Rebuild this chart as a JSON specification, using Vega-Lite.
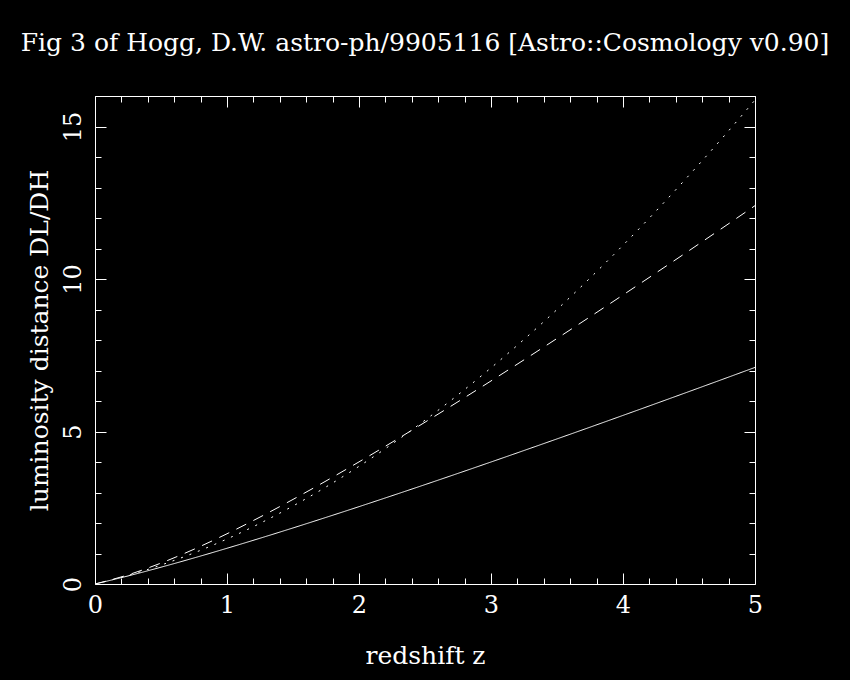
{
  "$schema": "https://vega.github.io/schema/vega-lite/v6.json",
  "width": 660,
  "height": 488,
  "autosize": "none",
  "padding": {"left": 95, "top": 96, "right": 95, "bottom": 96},
  "background": "black",
  "title": {"text": "Fig 3 of Hogg, D.W. astro-ph/9905116 [Astro::Cosmology v0.90]", "color": "white", "font": "DejaVu Serif", "fontSize": 25, "fontWeight": "normal", "anchor": "middle", "offset": 40},
  "config": {
    "view": {"stroke": "white", "strokeWidth": 1},
    "axis": {"grid": false, "domain": false, "tickColor": "white", "tickWidth": 1, "labelColor": "white", "titleColor": "white", "labelFont": "DejaVu Serif", "titleFont": "DejaVu Serif", "labelFontSize": 24, "titleFontSize": 25, "titleFontWeight": "normal", "labelFlush": false}
  },
  "data": {"values": [
    {"z": 0, "d": 0, "model": "EdS"}, {"z": 0.25, "d": 0.2639, "model": "EdS"}, {"z": 0.5, "d": 0.5505, "model": "EdS"}, {"z": 0.75, "d": 0.8542, "model": "EdS"}, {"z": 1, "d": 1.1716, "model": "EdS"}, {"z": 1.25, "d": 1.5, "model": "EdS"}, {"z": 1.5, "d": 1.8377, "model": "EdS"}, {"z": 1.75, "d": 2.1835, "model": "EdS"}, {"z": 2, "d": 2.5359, "model": "EdS"}, {"z": 2.25, "d": 2.8945, "model": "EdS"}, {"z": 2.5, "d": 3.2583, "model": "EdS"}, {"z": 2.75, "d": 3.627, "model": "EdS"}, {"z": 3, "d": 4.0, "model": "EdS"}, {"z": 3.25, "d": 4.3769, "model": "EdS"}, {"z": 3.5, "d": 4.7574, "model": "EdS"}, {"z": 3.75, "d": 5.1411, "model": "EdS"}, {"z": 4, "d": 5.5279, "model": "EdS"}, {"z": 4.25, "d": 5.9174, "model": "EdS"}, {"z": 4.5, "d": 6.3096, "model": "EdS"}, {"z": 4.75, "d": 6.7042, "model": "EdS"}, {"z": 5, "d": 7.101, "model": "EdS"},
    {"z": 0, "d": 0, "model": "Open"}, {"z": 0.25, "d": 0.2803, "model": "Open"}, {"z": 0.5, "d": 0.6204, "model": "Open"}, {"z": 0.75, "d": 1.0192, "model": "Open"}, {"z": 1, "d": 1.4757, "model": "Open"}, {"z": 1.25, "d": 1.9888, "model": "Open"}, {"z": 1.5, "d": 2.5576, "model": "Open"}, {"z": 1.75, "d": 3.1811, "model": "Open"}, {"z": 2, "d": 3.8582, "model": "Open"}, {"z": 2.25, "d": 4.5882, "model": "Open"}, {"z": 2.5, "d": 5.3701, "model": "Open"}, {"z": 2.75, "d": 6.203, "model": "Open"}, {"z": 3, "d": 7.0864, "model": "Open"}, {"z": 3.25, "d": 8.0191, "model": "Open"}, {"z": 3.5, "d": 9.0003, "model": "Open"}, {"z": 3.75, "d": 10.0296, "model": "Open"}, {"z": 4, "d": 11.1058, "model": "Open"}, {"z": 4.25, "d": 12.2286, "model": "Open"}, {"z": 4.5, "d": 13.3999, "model": "Open"}, {"z": 4.75, "d": 14.6106, "model": "Open"}, {"z": 5, "d": 15.868, "model": "Open"},
    {"z": 0, "d": 0, "model": "Lambda"}, {"z": 0.25, "d": 0.2997, "model": "Lambda"}, {"z": 0.5, "d": 0.6861, "model": "Lambda"}, {"z": 0.75, "d": 1.1402, "model": "Lambda"}, {"z": 1, "d": 1.6469, "model": "Lambda"}, {"z": 1.25, "d": 2.1942, "model": "Lambda"}, {"z": 1.5, "d": 2.7733, "model": "Lambda"}, {"z": 1.75, "d": 3.378, "model": "Lambda"}, {"z": 2, "d": 4.0036, "model": "Lambda"}, {"z": 2.25, "d": 4.6467, "model": "Lambda"}, {"z": 2.5, "d": 5.3046, "model": "Lambda"}, {"z": 2.75, "d": 5.9755, "model": "Lambda"}, {"z": 3, "d": 6.6575, "model": "Lambda"}, {"z": 3.25, "d": 7.3496, "model": "Lambda"}, {"z": 3.5, "d": 8.0506, "model": "Lambda"}, {"z": 3.75, "d": 8.7597, "model": "Lambda"}, {"z": 4, "d": 9.4762, "model": "Lambda"}, {"z": 4.25, "d": 10.1993, "model": "Lambda"}, {"z": 4.5, "d": 10.9287, "model": "Lambda"}, {"z": 4.75, "d": 11.6638, "model": "Lambda"}, {"z": 5, "d": 12.4043, "model": "Lambda"}
  ]},
  "resolve": {"axis": {"x": "independent", "y": "independent"}},
  "layer": [
    {
      "mark": {"type": "line", "color": "white", "strokeWidth": 1, "interpolate": "monotone", "clip": true},
      "encoding": {
        "x": {"field": "z", "type": "quantitative", "scale": {"domain": [0, 5], "nice": false, "zero": false},
          "axis": {"orient": "bottom", "values": [0, 1, 2, 3, 4, 5], "ticks": false, "labelPadding": 9, "title": "redshift z", "titlePadding": 26}},
        "y": {"field": "d", "type": "quantitative", "scale": {"domain": [0, 16], "nice": false, "zero": false},
          "axis": {"orient": "left", "values": [0, 5, 10, 15], "ticks": false, "labelAngle": -90, "labelPadding": 10, "title": "luminosity distance DL/DH", "titlePadding": 9}},
        "strokeDash": {"field": "model", "type": "nominal", "scale": {"domain": ["EdS", "Open", "Lambda"], "range": [[1, 0], [2, 7], [11, 8]]}, "legend": null},
        "detail": {"field": "model"}
      }
    },
    {
      "mark": {"type": "point", "opacity": 0},
      "encoding": {
        "x": {"field": "z", "type": "quantitative", "axis": {"orient": "bottom", "values": [0, 1, 2, 3, 4, 5], "labels": false, "tickSize": 11, "offset": -11, "title": null}},
        "y": {"field": "d", "type": "quantitative", "axis": {"orient": "left", "values": [0, 5, 10, 15], "labels": false, "tickSize": 11, "offset": -11, "title": null}}
      }
    },
    {
      "mark": {"type": "point", "opacity": 0},
      "encoding": {
        "x": {"field": "z", "type": "quantitative", "axis": {"orient": "bottom", "values": [0.2, 0.4, 0.6, 0.8, 1.2, 1.4, 1.6, 1.8, 2.2, 2.4, 2.6, 2.8, 3.2, 3.4, 3.6, 3.8, 4.2, 4.4, 4.6, 4.8], "labels": false, "tickSize": 6, "offset": -6, "title": null}},
        "y": {"field": "d", "type": "quantitative", "axis": {"orient": "left", "values": [1, 2, 3, 4, 6, 7, 8, 9, 11, 12, 13, 14, 16], "labels": false, "tickSize": 6, "offset": -6, "title": null}}
      }
    },
    {
      "mark": {"type": "point", "opacity": 0},
      "encoding": {
        "x": {"field": "z", "type": "quantitative", "axis": {"orient": "top", "values": [0, 1, 2, 3, 4, 5], "labels": false, "tickSize": 11, "offset": -11, "title": null}},
        "y": {"field": "d", "type": "quantitative", "axis": {"orient": "right", "values": [0, 5, 10, 15], "labels": false, "tickSize": 11, "offset": -11, "title": null}}
      }
    },
    {
      "mark": {"type": "point", "opacity": 0},
      "encoding": {
        "x": {"field": "z", "type": "quantitative", "axis": {"orient": "top", "values": [0.2, 0.4, 0.6, 0.8, 1.2, 1.4, 1.6, 1.8, 2.2, 2.4, 2.6, 2.8, 3.2, 3.4, 3.6, 3.8, 4.2, 4.4, 4.6, 4.8], "labels": false, "tickSize": 6, "offset": -6, "title": null}},
        "y": {"field": "d", "type": "quantitative", "axis": {"orient": "right", "values": [1, 2, 3, 4, 6, 7, 8, 9, 11, 12, 13, 14, 16], "labels": false, "tickSize": 6, "offset": -6, "title": null}}
      }
    }
  ]
}
